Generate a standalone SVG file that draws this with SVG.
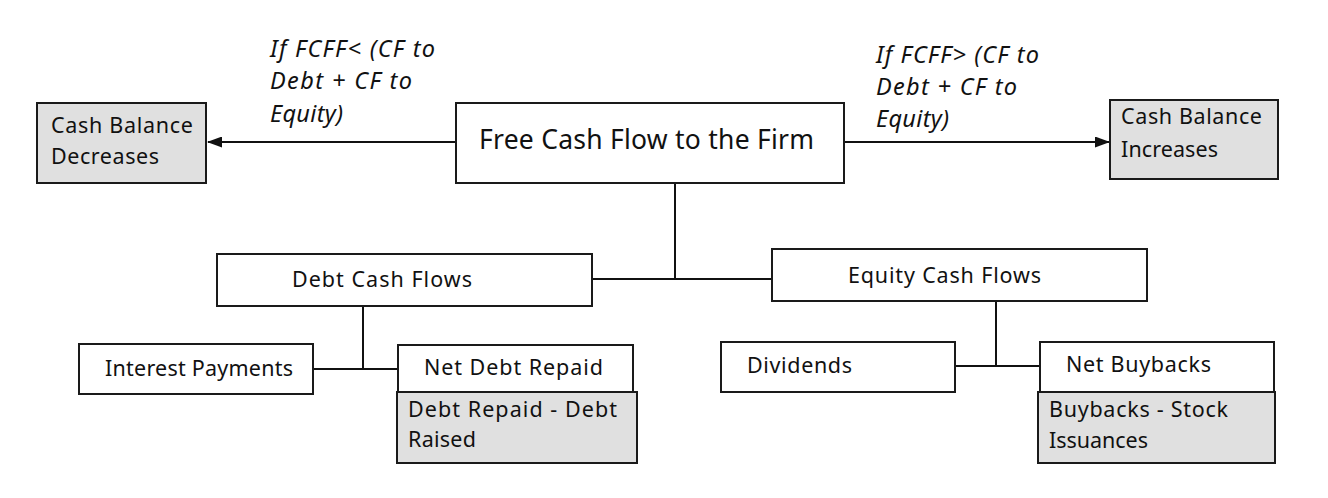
<svg xmlns="http://www.w3.org/2000/svg" width="1328" height="498" viewBox="0 0 1328 498">
<defs>
<style>
.box{fill:#ffffff;stroke:#1a1a1a;stroke-width:2}
.gray{fill:#e0e0e0;stroke:#1a1a1a;stroke-width:2}
.t{font-family:"Noto Sans","Liberation Sans",sans-serif;font-size:21.5px;fill:#111}
.big{font-size:26.5px}
.it{font-style:italic;font-size:23.5px}
.ln{stroke:#111;stroke-width:2;fill:none}
</style>
<marker id="ah" markerWidth="15" markerHeight="11" refX="14" refY="5.5" orient="auto" markerUnits="userSpaceOnUse" viewBox="0 0 15 11">
<path d="M0,0 L15,5.5 L0,11 z" fill="#111"/>
</marker>
</defs>
<rect width="1328" height="498" fill="#fff"/>
<g id="connectors">
<line class="ln" x1="456" y1="142" x2="208" y2="142" marker-end="url(#ah)"/>
<line class="ln" x1="844" y1="142" x2="1109" y2="142" marker-end="url(#ah)"/>
<line class="ln" x1="675" y1="183" x2="675" y2="279"/>
<line class="ln" x1="592" y1="279" x2="772" y2="279"/>
<line class="ln" x1="363" y1="306" x2="363" y2="369"/>
<line class="ln" x1="313" y1="369" x2="398" y2="369"/>
<line class="ln" x1="996" y1="301" x2="996" y2="366"/>
<line class="ln" x1="955" y1="366" x2="1042" y2="366"/>
</g>
<g id="label-left">
<text class="t it" x="270" y="57" textLength="165">If FCFF&lt; (CF to</text>
<text class="t it" x="270" y="89" textLength="142">Debt + CF to</text>
<text class="t it" x="270" y="122" textLength="73">Equity)</text>
</g>
<g id="label-right">
<text class="t it" x="876" y="63" textLength="163">If FCFF&gt; (CF to</text>
<text class="t it" x="876" y="95" textLength="141">Debt + CF to</text>
<text class="t it" x="876" y="127" textLength="73">Equity)</text>
</g>
<g id="fcff">
<rect class="box" x="456" y="103" width="388" height="80"/>
<text class="t big" x="479" y="149" textLength="335">Free Cash Flow to the Firm</text>
</g>
<g id="cash-decreases">
<rect class="gray" x="37" y="103" width="169" height="80"/>
<text class="t" x="51" y="133" textLength="142">Cash Balance</text>
<text class="t" x="51" y="164" textLength="108">Decreases</text>
</g>
<g id="cash-increases">
<rect class="gray" x="1110" y="100" width="168" height="79"/>
<text class="t" x="1121" y="124" textLength="141">Cash Balance</text>
<text class="t" x="1121" y="157" textLength="97">Increases</text>
</g>
<g id="debt-cf">
<rect class="box" x="217" y="254" width="375" height="52"/>
<text class="t" x="292" y="287" textLength="180">Debt Cash Flows</text>
</g>
<g id="equity-cf">
<rect class="box" x="772" y="249" width="375" height="52"/>
<text class="t" x="848" y="283" textLength="193">Equity Cash Flows</text>
</g>
<g id="interest">
<rect class="box" x="79" y="344" width="234" height="50"/>
<text class="t" x="105" y="376" textLength="188">Interest Payments</text>
</g>
<g id="net-debt">
<rect class="box" x="398" y="345" width="235" height="47"/>
<text class="t" x="424" y="375" textLength="179">Net Debt Repaid</text>
</g>
<g id="net-debt-def">
<rect class="gray" x="397" y="392" width="240" height="71"/>
<text class="t" x="408" y="417" textLength="209">Debt Repaid - Debt</text>
<text class="t" x="408" y="447" textLength="68">Raised</text>
</g>
<g id="dividends">
<rect class="box" x="721" y="342" width="234" height="50"/>
<text class="t" x="747" y="373" textLength="105">Dividends</text>
</g>
<g id="net-buybacks">
<rect class="box" x="1040" y="342" width="234" height="50"/>
<text class="t" x="1066" y="372" textLength="145">Net Buybacks</text>
</g>
<g id="net-buybacks-def">
<rect class="gray" x="1038" y="392" width="237" height="71"/>
<text class="t" x="1049" y="417" textLength="179">Buybacks - Stock</text>
<text class="t" x="1049" y="448" textLength="99">Issuances</text>
</g>
</svg>
